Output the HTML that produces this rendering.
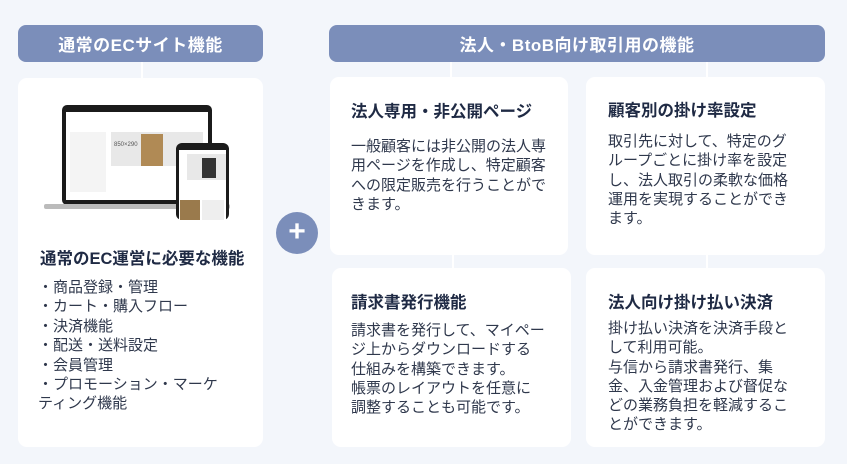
<!DOCTYPE html>
<html><head><meta charset="utf-8"><style>
*{margin:0;padding:0;box-sizing:border-box}
body{width:847px;height:464px;background:#f3f6fb;position:relative;overflow:hidden;font-family:"Liberation Sans","Noto Sans CJK JP",sans-serif;color:#2b3346}
.hd{position:absolute;background:#7b8eba;color:#fff;font-weight:bold;font-size:17px;border-radius:8px;display:flex;align-items:center;justify-content:center;letter-spacing:0.5px}
.card{position:absolute;background:#fff;border-radius:9px}
.t{position:absolute;font-weight:bold;font-size:16.5px;color:#1f2a44;white-space:nowrap}
.b{position:absolute;font-size:15px;line-height:19.3px;color:#2f384c;white-space:nowrap}
.ln{position:absolute;background:#fff;width:2px}
</style></head><body>
<div class="hd" style="left:18px;top:25px;width:245px;height:37px">通常のECサイト機能</div>
<div class="hd" style="left:329px;top:25px;width:496px;height:37px">法人・BtoB向け取引用の機能</div>
<div class="ln" style="left:141px;top:62px;height:16px"></div>
<div class="ln" style="left:450px;top:62px;height:15px"></div>
<div class="ln" style="left:706px;top:62px;height:15px"></div>
<div class="ln" style="left:452px;top:255px;height:13px"></div>
<div class="ln" style="left:706px;top:255px;height:13px"></div>

<div class="card" style="left:18px;top:78px;width:245px;height:369px"></div>
<svg style="position:absolute;left:44px;top:104px" width="190" height="116">
<rect x="18" y="1" width="150" height="100" rx="5" fill="#1b1b1b"/>
<rect x="22" y="8" width="142" height="88" fill="#fff"/>
<rect x="0" y="100" width="186" height="5" rx="2" fill="#bbb"/>
<rect x="67" y="28" width="92" height="34" fill="#e8e8e8"/>
<rect x="97" y="30" width="22" height="32" fill="#b08a55"/>
<text x="70" y="42" font-size="6" fill="#555" font-family="Liberation Sans">850×290</text>
<rect x="26" y="28" width="36" height="60" fill="#f4f4f4"/>
<rect x="132" y="39" width="53" height="77" rx="6" fill="#1b1b1b"/>
<rect x="135" y="46" width="47" height="70" fill="#fff"/>
<rect x="143" y="50" width="39" height="26" fill="#e8e8e8"/>
<rect x="158" y="54" width="14" height="20" fill="#333"/>
<rect x="136" y="96" width="20" height="20" fill="#9a7a4c"/>
<rect x="158" y="96" width="22" height="20" fill="#eee"/>
</svg>
<div class="t" style="left:40px;top:245px">通常のEC運営に必要な機能</div>
<div class="b" style="left:38px;top:278px;line-height:19.4px">・商品登録・管理<br>・カート・購入フロー<br>・決済機能<br>・配送・送料設定<br>・会員管理<br>・プロモーション・マーケ<br>ティング機能</div>

<div style="position:absolute;left:276px;top:212px;width:42px;height:42px;border-radius:50%;background:#7b8eba;color:#fff;font-size:30px;font-weight:bold;text-align:center;line-height:40px">+</div>

<div class="card" style="left:330px;top:77px;width:238px;height:178px"></div>
<div class="t" style="left:351px;top:98px">法人専用・非公開ページ</div>
<div class="b" style="left:351px;top:137px">一般顧客には非公開の法人専<br>用ページを作成し、特定顧客<br>への限定販売を行うことがで<br>きます。</div>

<div class="card" style="left:586px;top:77px;width:239px;height:178px"></div>
<div class="t" style="left:608px;top:97px">顧客別の掛け率設定</div>
<div class="b" style="left:608px;top:132px">取引先に対して、特定のグ<br>ループごとに掛け率を設定<br>し、法人取引の柔軟な価格<br>運用を実現することができ<br>ます。</div>

<div class="card" style="left:332px;top:268px;width:239px;height:179px"></div>
<div class="t" style="left:351px;top:289px">請求書発行機能</div>
<div class="b" style="left:351px;top:321px">請求書を発行して、マイペー<br>ジ上からダウンロードする<br>仕組みを構築できます。<br>帳票のレイアウトを任意に<br>調整することも可能です。</div>

<div class="card" style="left:586px;top:268px;width:239px;height:179px"></div>
<div class="t" style="left:608px;top:289px">法人向け掛け払い決済</div>
<div class="b" style="left:608px;top:319px">掛け払い決済を決済手段と<br>して利用可能。<br>与信から請求書発行、集<br>金、入金管理および督促な<br>どの業務負担を軽減するこ<br>とができます。</div>
</body></html>
